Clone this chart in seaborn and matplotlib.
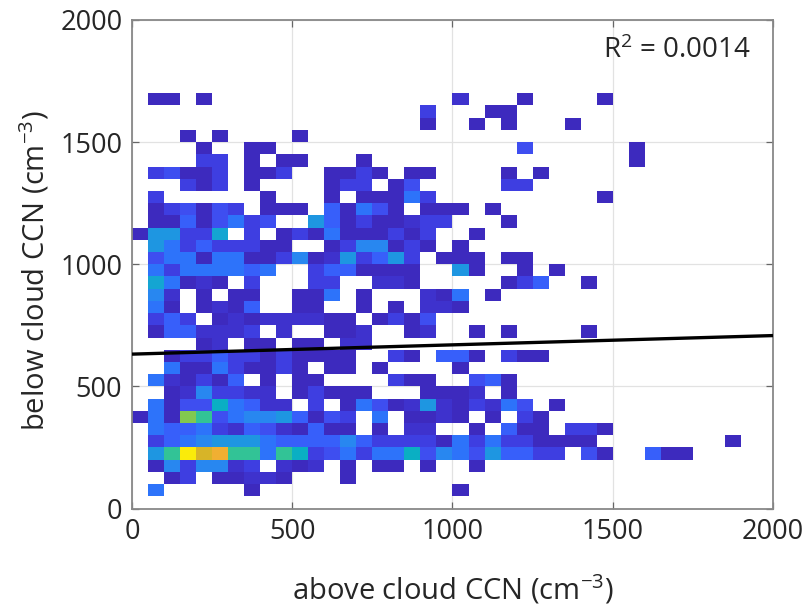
import numpy as np
import matplotlib
matplotlib.use("Agg")
import matplotlib.pyplot as plt
from matplotlib.colors import ListedColormap
import seaborn as sns

sns.set_theme(style="white")
plt.rcParams['font.family'] = ['Open Sans', 'DejaVu Sans']
plt.rcParams['mathtext.default'] = 'regular'

# Cell levels per row of the 2-D histogram (bin size 50). Row number = lower edge / 50.
# Characters are hex counts, '.' is an empty bin; text holds columns 0..39 by lower edge / 50.
row_33 = ".11.1..... .......... 2...1....1"
row_32 = ".......... ........3. ..11......"
row_31 = ".......... ........1. .1.1...1.."
row_30 = "...1.1.... 1........."
row_29 = "....1..11. .......... ....4..... .1"
row_28 = "....33.1.1 1...1..... .......... .1"
row_27 = ".34113.113 ..1131.11. ...1.1...."
row_26 = "...313.1.. ..133.14.. ...33....."
row_25 = ".3......1. ..1.11163. .........1"
row_24 = ".134143.11 1.51641.11 1.1......."
row_23 = ".11514634. .851311233 ...1......"
row_22 = "188339.3.1 316111313. .1........"
row_21 = ".863533311 ..1377131. 1........."
row_20 = ".466166113 71283583.1 11.11....."
row_19 = ".63666656. .3551111.. 81..1.1..."
row_18 = ".96121.3.. .33..221.. ...135..1."
row_17 = ".72.1.11.. 116.1...21 6.1......."
row_16 = ".61.1215.. 11..1.1.22 1........."
row_15 = ".353.12122 2211.1314."
row_14 = ".1552223.2 ..112..12. .1.1....1."
row_13 = "....12.11. 11.22....."
row_12 = "..13353313 1111..31.5 51.311...."
row_11 = "..61163113 1.11.1.... 1........."
row_10 = ".621315.1. 11....311. .451......"
row_09 = "..1273322. 13111...11 12.1......"
row_08 = ".6144a6522 .3.1641282 13264.1..."
row_07 = "161cb46778 5143.6.112 1.1.31...."
row_06 = ".655632542 1511.1.22. .1.511.331"
row_05 = ".356788865 5557533331 636331111. .......1.."
row_04 = ".8bfdebb6b a346366a47 6485533.41 ..511....."
row_03 = ".1737723.2 12.1.11.1. .1........"
row_02 = "..13.11221 ...1......"
row_01 = ".6.....1.. .......... 1........."

rows = {33: row_33, 32: row_32, 31: row_31, 30: row_30, 29: row_29, 28: row_28, 27: row_27,
        26: row_26, 25: row_25, 24: row_24, 23: row_23, 22: row_22, 21: row_21, 20: row_20,
        19: row_19, 18: row_18, 17: row_17, 16: row_16, 15: row_15, 14: row_14, 13: row_13,
        12: row_12, 11: row_11, 10: row_10, 9: row_09, 8: row_08, 7: row_07, 6: row_06,
        5: row_05, 4: row_04, 3: row_03, 2: row_02, 1: row_01}

level_colors = ["#3d2abe", "#3e32cd", "#3e3ee1", "#3e4ef0", "#375ffa", "#2d73fa", "#2887f0",
                "#1e96e1", "#14a5d2", "#0aafc3", "#32c396", "#82c850", "#d7b428", "#f0af32",
                "#faeb0a"]

fit_x = [0, 2000]
fit_y = [632, 708]
ticks = [0, 500, 1000, 1500, 2000]
bin_size = 50

xs, ys, ws = [], [], []
for k, text in rows.items():
    for c, ch in enumerate(text.replace(" ", "")):
        if ch != ".":
            xs.append((c + 0.5) * bin_size)
            ys.append((k + 0.5) * bin_size)
            ws.append(int(ch, 16))

edges = np.arange(0, 2000 + bin_size, bin_size)
fig = plt.figure(figsize=(8.04, 6.07), dpi=100)
ax = fig.add_axes([132 / 804, 1 - 508.5 / 607, (773 - 132) / 804, (508.5 - 20) / 607])
sns.histplot(x=xs, y=ys, weights=ws, bins=[edges, edges], thresh=0,
             cmap=ListedColormap(level_colors), vmin=0.5, vmax=15.5, ax=ax, zorder=2)
ax.plot(fit_x, fit_y, color="black", lw=2.4, zorder=3, solid_capstyle="butt")

ax.set_xlim(0, 2000)
ax.set_ylim(0, 2000)
ax.set_xticks(ticks)
ax.set_yticks(ticks)
ax.set_axisbelow(True)
ax.grid(True, color="#e2e2e2", lw=0.9)
ax.tick_params(direction="in", length=5, width=0.9, color="#666666", labelsize=19.5,
               labelcolor="#262626", top=True, right=True, bottom=True, left=True)
ax.tick_params(axis="x", pad=7)
ax.tick_params(axis="y", pad=7)
for s in ax.spines.values():
    s.set_color("#888888")
    s.set_linewidth(1.3)
    s.set_visible(True)
ax.set_xlabel("above cloud CCN (cm$^{-3}$)", fontsize=21, color="#262626")
ax.set_ylabel("below cloud CCN (cm$^{-3}$)", fontsize=21, color="#262626")
ax.xaxis.set_label_coords(0.5, -0.132)
ax.yaxis.set_label_coords(-0.125, 0.487)
ax.text(1470, 1873, "R$^2$ = 0.0014", fontsize=20, color="#262626", va="center", zorder=4)

fig.savefig("out.png", dpi=100)
